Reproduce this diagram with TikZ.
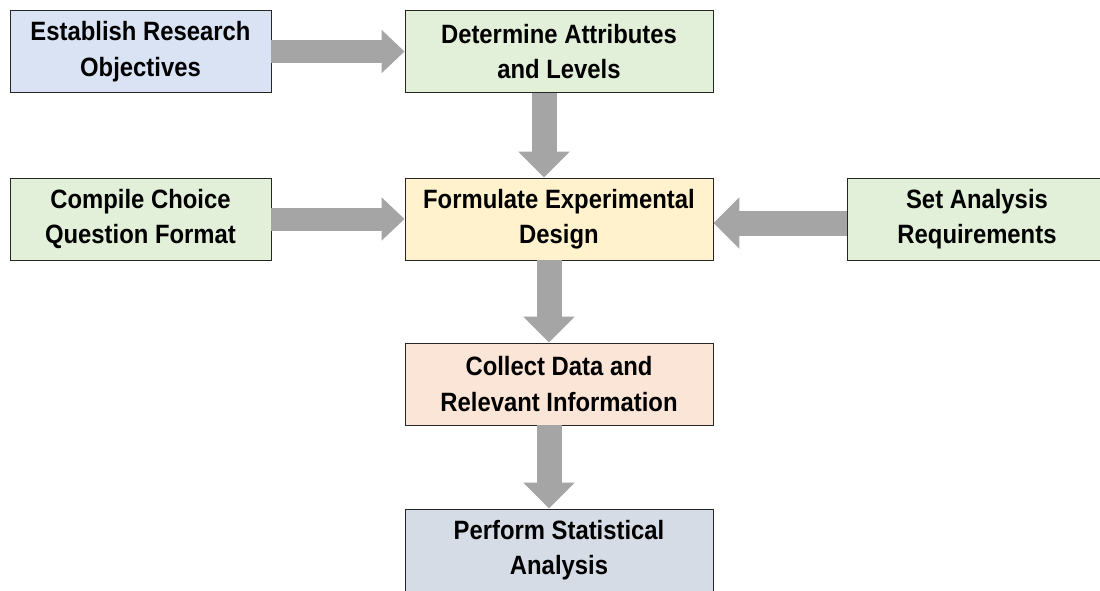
\documentclass[tikz,border=0pt]{standalone}
\usepackage{fontspec}
\newfontfamily\narrowfont[FakeStretch=0.9]{Liberation Sans}
\usetikzlibrary{arrows.meta}
\definecolor{boxblue}{HTML}{DAE3F3}
\definecolor{boxgreen}{HTML}{E2F0D9}
\definecolor{boxyellow}{HTML}{FFF2CC}
\definecolor{boxorange}{HTML}{FBE5D6}
\definecolor{boxgray}{HTML}{D6DCE5}
\definecolor{arrowgray}{HTML}{A5A5A5}
\begin{document}
\begin{tikzpicture}[x=1pt, y=1pt, node distance = 166pt,
    step box/.style = {draw=black!85, line width=0.9pt, minimum height=82pt, align=center,
      font=\narrowfont\bfseries\fontsize{26.5}{35.5}\selectfont},
    fat arrow/.style = {arrowgray, line width=23pt, -{Triangle[length=23pt, width=42pt]}},
    fatter arrow/.style = {arrowgray, line width=25pt, -{Triangle[length=26pt, width=50pt]}}]
      \useasboundingbox (-140.5, 51.5) rectangle (959.5, -538.5);
      \node[step box, fill=boxblue, minimum width=261pt] (1) {Establish Research\\Objectives};
      \node[step box, fill=boxgreen, minimum width=308pt] (2) [right of = 1, node distance = 418.5pt] {Determine Attributes\\and Levels};
      \node[step box, fill=boxyellow, minimum width=308pt] (4) [below of = 2, node distance = 167.5pt] {Formulate Experimental\\Design};
      \node[step box, fill=boxgreen, minimum width=261pt] (3) [below of = 1, node distance = 167.5pt] {Compile Choice\\Question Format};
      \node[step box, fill=boxgreen, minimum width=260pt] (5) [right of = 4, node distance = 418pt] {Set Analysis\\Requirements};
      \node[step box, fill=boxorange, minimum width=308pt] (6) [below of = 4, node distance = 165pt] {Collect Data and\\Relevant Information};
      \node[step box, fill=boxgray, minimum width=308pt] (7) [below of = 6] {Perform Statistical\\Analysis};

      \path[fat arrow] (1) edge (2);
      \path[fat arrow] (3) edge (4);
      \path[fatter arrow] ([yshift=-4pt]5.west) edge ([yshift=-4pt]4.east);
      \path[fatter arrow] ([xshift=-15pt]2.south) edge ([xshift=-15pt]4.north);
      \path[fatter arrow] ([xshift=-10pt]4.south) edge ([xshift=-10pt]6.north);
      \path[fatter arrow] ([xshift=-10pt]6.south) edge ([xshift=-10pt]7.north);
    \end{tikzpicture}
\end{document}
